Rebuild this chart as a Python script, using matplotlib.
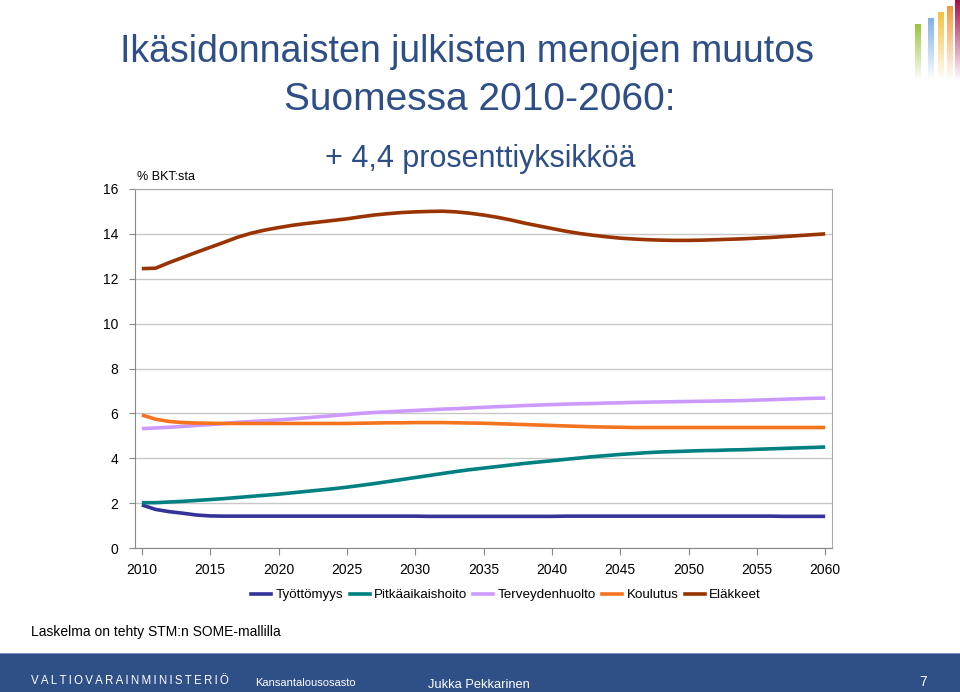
import numpy as np
import matplotlib
matplotlib.use('Agg')
import matplotlib.pyplot as plt
from matplotlib.patches import Rectangle
from matplotlib.lines import Line2D

years = list(range(2010, 2061))

tyottomyys = [1.92, 1.72, 1.62, 1.55, 1.47, 1.43, 1.42, 1.42, 1.42, 1.42,
              1.42, 1.42, 1.42, 1.42, 1.42, 1.42, 1.42, 1.42, 1.42, 1.42,
              1.42, 1.41, 1.41, 1.41, 1.41, 1.41, 1.41, 1.41, 1.41, 1.41,
              1.41, 1.42, 1.42, 1.42, 1.42, 1.42, 1.42, 1.42, 1.42, 1.42,
              1.42, 1.42, 1.42, 1.42, 1.42, 1.42, 1.42, 1.41, 1.41, 1.41, 1.41]
pitkaaikaishoito = [2.02, 2.02, 2.05, 2.08, 2.12, 2.16, 2.20, 2.25, 2.30, 2.35,
                    2.40, 2.46, 2.52, 2.58, 2.64, 2.71, 2.79, 2.87, 2.96, 3.05,
                    3.14, 3.23, 3.32, 3.41, 3.49, 3.56, 3.63, 3.70, 3.77, 3.83,
                    3.89, 3.95, 4.01, 4.07, 4.12, 4.17, 4.21, 4.25, 4.28, 4.30,
                    4.32, 4.34, 4.35, 4.37, 4.38, 4.40, 4.42, 4.44, 4.46, 4.48, 4.50]
terveydenhuolto = [5.32, 5.35, 5.38, 5.42, 5.46, 5.50, 5.55, 5.60, 5.64, 5.67,
                   5.71, 5.75, 5.80, 5.85, 5.90, 5.95, 6.00, 6.04, 6.07, 6.10,
                   6.13, 6.16, 6.19, 6.21, 6.24, 6.27, 6.30, 6.32, 6.35, 6.37,
                   6.39, 6.41, 6.43, 6.44, 6.46, 6.47, 6.49, 6.50, 6.51, 6.52,
                   6.53, 6.54, 6.55, 6.56, 6.57, 6.59, 6.61, 6.63, 6.65, 6.67, 6.68]
koulutus = [5.93, 5.74, 5.64, 5.59, 5.57, 5.56, 5.55, 5.55, 5.55, 5.55,
            5.55, 5.55, 5.55, 5.55, 5.55, 5.55, 5.56, 5.57, 5.58, 5.58,
            5.59, 5.59, 5.59, 5.58, 5.57, 5.56, 5.54, 5.52, 5.50, 5.48,
            5.46, 5.44, 5.42, 5.40, 5.39, 5.38, 5.37, 5.37, 5.37, 5.37,
            5.37, 5.37, 5.37, 5.37, 5.37, 5.37, 5.37, 5.37, 5.37, 5.37, 5.37]
elakkeet = [12.45, 12.47, 12.72, 12.95, 13.18, 13.40, 13.62, 13.85, 14.03, 14.17,
            14.28, 14.38, 14.46, 14.53, 14.60, 14.67, 14.76, 14.84, 14.90, 14.95,
            14.98, 15.00, 15.01, 14.98, 14.92, 14.84, 14.74, 14.62, 14.48, 14.36,
            14.24, 14.12, 14.02, 13.94, 13.87, 13.81, 13.77, 13.74, 13.72, 13.71,
            13.71, 13.72, 13.74, 13.76, 13.78, 13.81, 13.84, 13.88, 13.92, 13.96, 14.00]

labels = ['Työttömyys', 'Pitkäaikaishoito', 'Terveydenhuolto', 'Koulutus', 'Eläkkeet']
colors = ['#333399', '#008080', '#CC99FF', '#F4731F', '#993300']
x_ticks = list(range(2010, 2061, 5))
y_ticks = list(range(0, 17, 2))

plt.rcParams['font.family'] = ['Liberation Sans', 'DejaVu Sans']

fig = plt.figure(figsize=(9.6, 6.92), dpi=100)
fig.patch.set_facecolor('white')

ax = fig.add_axes([135/960, 1-548/692, (832-135)/960, (548-189)/692])
series = [tyottomyys, pitkaaikaishoito, terveydenhuolto, koulutus, elakkeet]
for vals, lab, c in zip(series, labels, colors):
    ax.plot(years, vals, color=c, lw=2.6, label=lab, solid_capstyle='butt')

ax.set_xlim(2009.5, 2060.5)
ax.set_ylim(0, 16)
ax.set_xticks(x_ticks)
ax.set_yticks(y_ticks)
ax.tick_params(axis='x', length=5, color='#888888', labelsize=10, pad=6)
ax.tick_params(axis='y', length=4, color='#888888', labelsize=10, pad=8)
ax.grid(axis='y', color='#C8C8C8', lw=1)
ax.set_axisbelow(True)
for s in ['left', 'bottom']:
    ax.spines[s].set_color('#888888')
for s in ['top', 'right']:
    ax.spines[s].set_color('#AAAAAA')

handles = [Line2D([0], [0], color=c, lw=2.6) for c in colors]
fig.legend(handles, labels, loc='center', bbox_to_anchor=(506/960, 1-595/692),
           ncol=5, frameon=False, fontsize=9.6, handlelength=1.5,
           handletextpad=0.3, columnspacing=0.5)

fig.text(137/960, 1-177/692, '% BKT:sta', fontsize=9, va='center', ha='left')

title_col = '#2D4E87'
fig.text(467/960, 1-62/692, 'Ikäsidonnaisten julkisten menojen muutos',
         fontsize=27, color=title_col, ha='center', va='baseline')
fig.text(480/960, 1-110/692, 'Suomessa 2010-2060:',
         fontsize=28, color=title_col, ha='center', va='baseline')
fig.text(480/960, 1-167/692, '+ 4,4 prosenttiyksikköä',
         fontsize=22, color=title_col, ha='center', va='baseline')

fig.text(31/960, 1-632/692, 'Laskelma on tehty STM:n SOME-mallilla', fontsize=10, va='center')

# footer bar
fig.patches.append(Rectangle((0, 0), 1, 39/692, transform=fig.transFigure,
                             facecolor='#2F4F87', edgecolor='none', zorder=0))
fig.patches.append(Rectangle((0, 38/692), 1, 1.5/692, transform=fig.transFigure,
                             facecolor='#7A93BC', edgecolor='none', zorder=0))
fig.text(31/960, 1-681/692, '\u2009'.join('VALTIOVARAINMINISTERIÖ'),
         fontsize=8.3, color='white', va='center')
fig.text(255/960, 1-683/692, 'Kansantalousosasto',
         fontsize=8, color='white', va='center')
fig.text(428/960, 1-685/692, 'Jukka Pekkarinen',
         fontsize=9.3, color='white', va='center')
fig.text(919/960, 1-682/692, '7',
         fontsize=10, color='white', va='center')

# logo: fading bars in the top right corner
logo = np.ones((90, 55, 4))
logo[..., 3] = 0
bars = [(10, 6, 24, (0.61, 0.77, 0.24)), (23, 6, 18, (0.50, 0.70, 0.90)),
        (33, 6, 12, (0.96, 0.76, 0.26)), (42, 6, 6, (0.95, 0.61, 0.23)),
        (50, 5, 0, (0.66, 0.06, 0.29))]
for x0, w, top, c in bars:
    for yy in range(top, 90):
        a = max(0.0, 1 - (yy - top) / (80 - top)) if yy < 80 else 0.0
        logo[yy, x0:x0 + w, :3] = c
        logo[yy, x0:x0 + w, 3] = a
lax = fig.add_axes([905/960, 1-90/692, 55/960, 90/692])
lax.imshow(logo, aspect='auto', interpolation='bilinear')
lax.axis('off')

fig.savefig('out.png', dpi=100)
